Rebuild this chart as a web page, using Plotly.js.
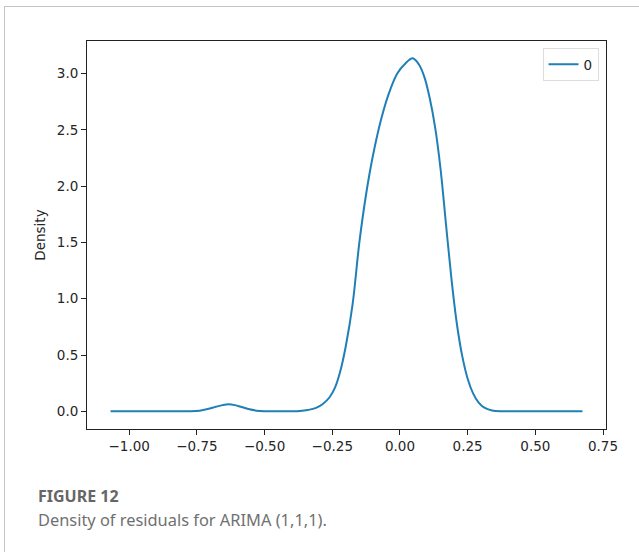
<!DOCTYPE html>
<html>
<head>
<meta charset="utf-8">
<script src="https://cdn.plot.ly/plotly-3.0.1.min.js"></script>
<style>
  html, body { margin: 0; padding: 0; background: #ffffff; }
  #wrap { position: relative; width: 639px; height: 552px; overflow: hidden; }
  #chart { width: 639px; height: 552px; }
  #card { position: absolute; left: 4px; top: 6px; width: 700px; height: 600px;
          border-top: 1px solid #c4c4c4; border-left: 1px solid #c4c4c4; pointer-events: none; }
</style>
</head>
<body>
<div id="wrap">
  <div id="chart"></div>
  <div id="card"></div>
</div>
<script>
// Residual values (x) and estimated density (y)
const residuals = [-1.069, -0.95, -0.85, -0.78, -0.74, -0.71, -0.68, -0.655, -0.633, -0.61, -0.585, -0.56, -0.53, -0.50, -0.45,
  -0.40, -0.37, -0.34, -0.31, -0.285, -0.26, -0.24, -0.22, -0.20, -0.175, -0.15, -0.125, -0.10, -0.07, -0.04, -0.01,
  0.02, 0.047, 0.07, 0.09, 0.11, 0.13, 0.15, 0.17, 0.19, 0.21, 0.23, 0.25, 0.27, 0.29, 0.31, 0.34, 0.38, 0.45, 0.55, 0.674];
const density = [0, 0, 0, 0.001, 0.006, 0.02, 0.04, 0.055, 0.062, 0.055, 0.038, 0.02, 0.006, 0.001, 0,
  0.001, 0.003, 0.012, 0.03, 0.065, 0.125, 0.21, 0.36, 0.58, 0.95, 1.50, 1.93, 2.27, 2.59, 2.83, 3.00,
  3.09, 3.135, 3.08, 2.97, 2.78, 2.52, 2.15, 1.66, 1.18, 0.78, 0.49, 0.29, 0.16, 0.08, 0.035, 0.008, 0.001, 0, 0, 0];
const seriesName = "0";
const xTicks = [-1.00, -0.75, -0.50, -0.25, 0.00, 0.25, 0.50, 0.75];
const yTicks = [0.0, 0.5, 1.0, 1.5, 2.0, 2.5, 3.0];
const yLabel = "Density";
const figureLabel = "FIGURE 12";
const figureCaption = "Density of residuals for ARIMA (1,1,1).";

const trace = {
  x: residuals, y: density, type: "scatter", mode: "lines", name: seriesName,
  line: { color: "#1f7fb6", width: 2, shape: "spline", smoothing: 1 },
  showlegend: true
};

const tickFont = { family: "DejaVu Sans", size: 13.5, color: "#262626" };

const layout = {
  width: 639, height: 552,
  margin: { l: 86.5, r: 32.5, t: 41, b: 123, pad: 0 },
  paper_bgcolor: "#ffffff", plot_bgcolor: "#ffffff",
  showlegend: true,
  xaxis: {
    range: [-1.156, 0.761], tickvals: xTicks, tickformat: ".2f",
    showgrid: false, zeroline: false, showline: true, mirror: true,
    linecolor: "#222", linewidth: 1,
    ticks: "outside", ticklen: 5, tickwidth: 1, tickcolor: "#222",
    tickfont: tickFont
  },
  yaxis: {
    range: [-0.157, 3.289], tickvals: yTicks, tickformat: ".1f",
    showgrid: false, zeroline: false, showline: true, mirror: true,
    linecolor: "#222", linewidth: 1,
    ticks: "outside", ticklen: 5, tickwidth: 1, tickcolor: "#222",
    tickfont: tickFont,
    title: { text: yLabel, font: { family: "DejaVu Sans", size: 13.5, color: "#262626" }, standoff: 8 }
  },
  legend: {
    x: 0.9856, y: 0.982, xanchor: "right", yanchor: "top",
    bgcolor: "#ffffff", bordercolor: "#dddddd", borderwidth: 1,
    font: { family: "DejaVu Sans", size: 13.5, color: "#262626" },
    itemwidth: 30
  },
  annotations: [
    { text: "<b>" + figureLabel + "</b>", xref: "paper", yref: "paper", x: -0.0985, y: -0.1727,
      xanchor: "left", yanchor: "middle", showarrow: false,
      font: { family: "Noto Sans", size: 16, color: "#666666" } },
    { text: figureCaption, xref: "paper", yref: "paper", x: -0.0985, y: -0.2345,
      xanchor: "left", yanchor: "middle", showarrow: false,
      font: { family: "Noto Sans", size: 16.4, color: "#707070" } }
  ]
};

Plotly.newPlot("chart", [trace], layout, { displayModeBar: false, staticPlot: true });
</script>
</body>
</html>
